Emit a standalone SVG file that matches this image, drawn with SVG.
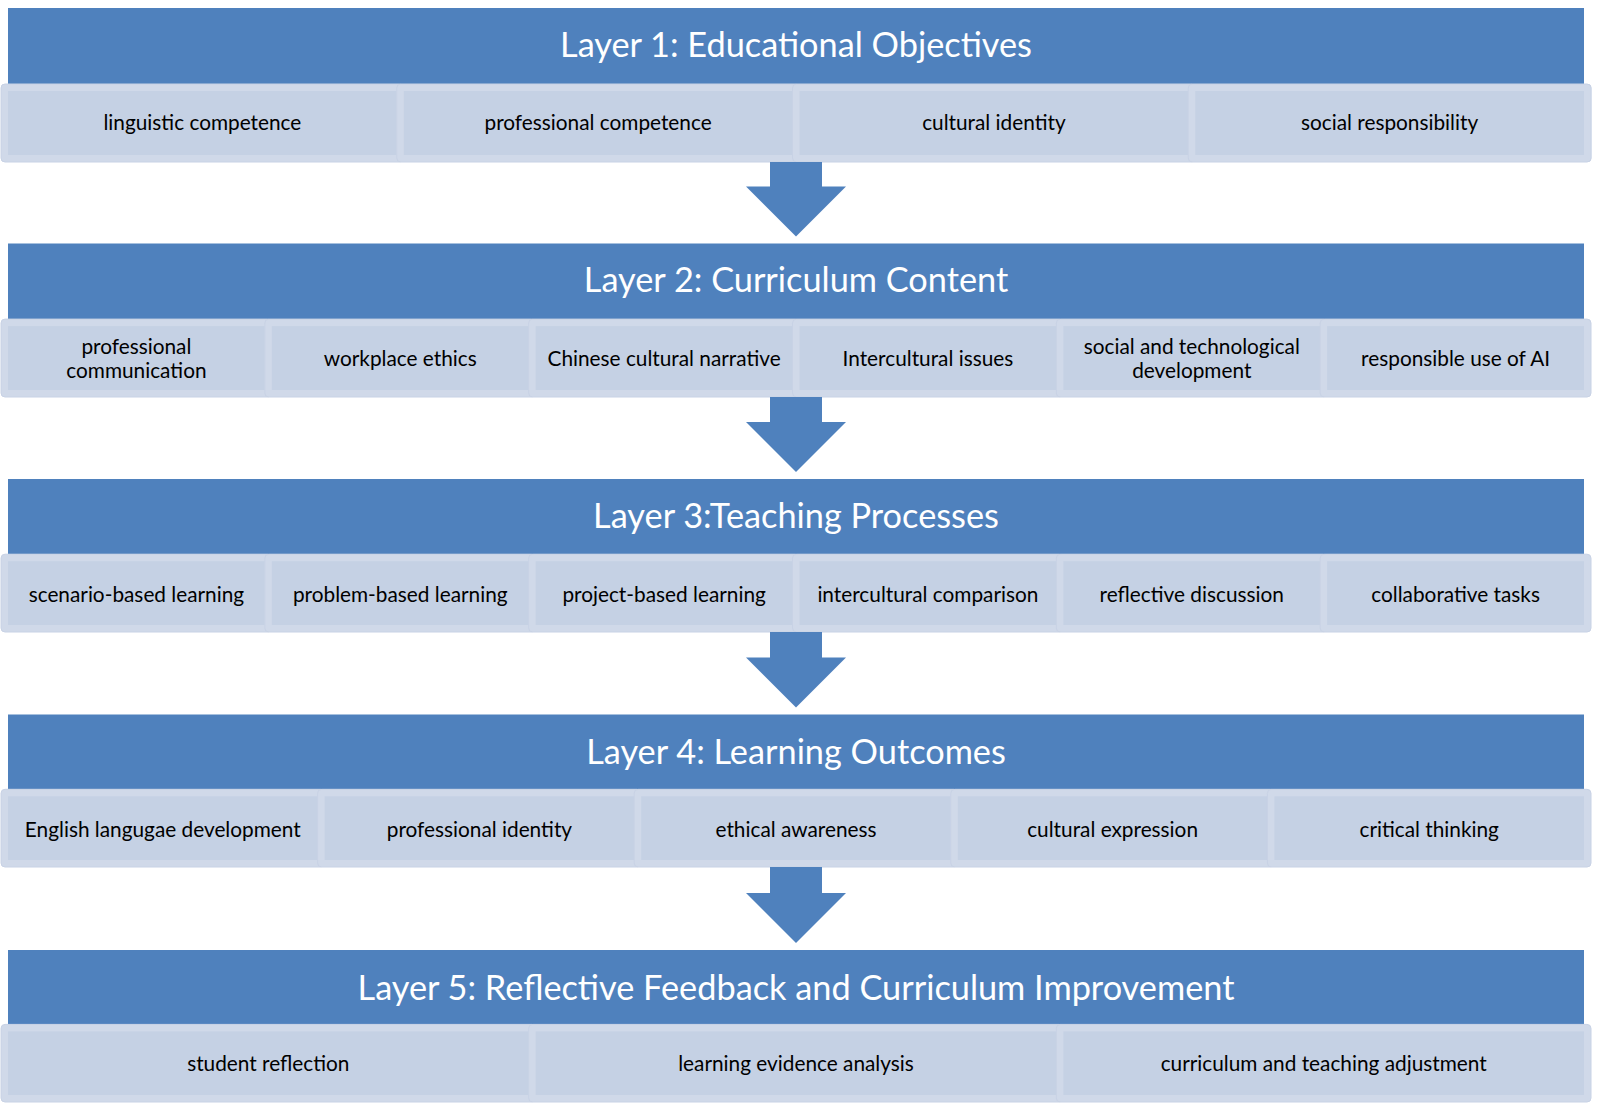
<svg xmlns="http://www.w3.org/2000/svg" width="1599" height="1113" viewBox="0 0 1599 1113">
<style>
.hdr{fill:#4f81bd}
.band{fill:#d0d9e9}
.cellO{fill:#d0d9e9;stroke:#c8d2e5;stroke-width:1}
.cell{fill:#c5d1e4}
.arrow{fill:#4f81bd}
.title{font-family:Lato,"Open Sans",sans-serif;font-size:34.3px;fill:#ffffff;text-anchor:middle}
.lbl{font-family:Lato,"Open Sans",sans-serif;font-size:20.8px;fill:#000000;text-anchor:middle}
</style>
<rect width="1599" height="1113" fill="#ffffff"/>

<g id="layer1">
<rect class="hdr" x="8" y="8" width="1576" height="76"/>
<text class="title" x="796" y="57">Layer 1: Educational Objectives</text>
<rect class="band" x="1" y="84" width="1590.5" height="78" rx="4"/>
<g id="l1c1"><rect class="cellO" x="1" y="84" width="402.75" height="78" rx="4"/><rect class="cell" x="8" y="91" width="388.75" height="64"/><text class="lbl" x="202.4" y="130">linguistic competence</text></g>
<g id="l1c2"><rect class="cellO" x="396.75" y="84" width="402.75" height="78" rx="4"/><rect class="cell" x="403.75" y="91" width="388.75" height="64"/><text class="lbl" x="598.1" y="130">professional competence</text></g>
<g id="l1c3"><rect class="cellO" x="792.5" y="84" width="402.75" height="78" rx="4"/><rect class="cell" x="799.5" y="91" width="388.75" height="64"/><text class="lbl" x="993.9" y="130">cultural identity</text></g>
<g id="l1c4"><rect class="cellO" x="1188.25" y="84" width="402.75" height="78" rx="4"/><rect class="cell" x="1195.25" y="91" width="388.75" height="64"/><text class="lbl" x="1389.6" y="130">social responsibility</text></g>
</g>

<g id="layer2">
<rect class="hdr" x="8" y="243.5" width="1576" height="75.6"/>
<text class="title" x="796" y="292.3">Layer 2: Curriculum Content</text>
<g id="l2c1"><rect class="cellO" x="1" y="319.1" width="270.83" height="77.9" rx="4"/><rect class="cell" x="8" y="326.1" width="256.83" height="63.9"/><text class="lbl" x="136.4" y="353.5">professional</text><text class="lbl" x="136.4" y="377.5">communication</text></g>
<g id="l2c2"><rect class="cellO" x="264.83" y="319.1" width="270.83" height="77.9" rx="4"/><rect class="cell" x="271.83" y="326.1" width="256.83" height="63.9"/><text class="lbl" x="400.25" y="365.5">workplace ethics</text></g>
<g id="l2c3"><rect class="cellO" x="528.67" y="319.1" width="270.83" height="77.9" rx="4"/><rect class="cell" x="535.67" y="326.1" width="256.83" height="63.9"/><text class="lbl" x="664.1" y="365.5">Chinese cultural narrative</text></g>
<g id="l2c4"><rect class="cellO" x="792.5" y="319.1" width="270.83" height="77.9" rx="4"/><rect class="cell" x="799.5" y="326.1" width="256.83" height="63.9"/><text class="lbl" x="927.9" y="365.5">Intercultural issues</text></g>
<g id="l2c5"><rect class="cellO" x="1056.33" y="319.1" width="270.83" height="77.9" rx="4"/><rect class="cell" x="1063.33" y="326.1" width="256.83" height="63.9"/><text class="lbl" x="1191.75" y="353.5">social and technological</text><text class="lbl" x="1191.75" y="377.5">development</text></g>
<g id="l2c6"><rect class="cellO" x="1320.17" y="319.1" width="270.83" height="77.9" rx="4"/><rect class="cell" x="1327.17" y="326.1" width="256.83" height="63.9"/><text class="lbl" x="1455.6" y="365.5">responsible use of AI</text></g>
</g>

<g id="layer3">
<rect class="hdr" x="8" y="479" width="1576" height="75.2"/>
<text class="title" x="796" y="528">Layer 3:Teaching Processes</text>
<g id="l3c1"><rect class="cellO" x="1" y="554.2" width="270.83" height="77.8" rx="4"/><rect class="cell" x="8" y="561.2" width="256.83" height="63.8"/><text class="lbl" x="136.4" y="601.8">scenario-based learning</text></g>
<g id="l3c2"><rect class="cellO" x="264.83" y="554.2" width="270.83" height="77.8" rx="4"/><rect class="cell" x="271.83" y="561.2" width="256.83" height="63.8"/><text class="lbl" x="400.25" y="601.8">problem-based learning</text></g>
<g id="l3c3"><rect class="cellO" x="528.67" y="554.2" width="270.83" height="77.8" rx="4"/><rect class="cell" x="535.67" y="561.2" width="256.83" height="63.8"/><text class="lbl" x="664.1" y="601.8">project-based learning</text></g>
<g id="l3c4"><rect class="cellO" x="792.5" y="554.2" width="270.83" height="77.8" rx="4"/><rect class="cell" x="799.5" y="561.2" width="256.83" height="63.8"/><text class="lbl" x="927.9" y="601.8">intercultural comparison</text></g>
<g id="l3c5"><rect class="cellO" x="1056.33" y="554.2" width="270.83" height="77.8" rx="4"/><rect class="cell" x="1063.33" y="561.2" width="256.83" height="63.8"/><text class="lbl" x="1191.75" y="601.8">reflective discussion</text></g>
<g id="l3c6"><rect class="cellO" x="1320.17" y="554.2" width="270.83" height="77.8" rx="4"/><rect class="cell" x="1327.17" y="561.2" width="256.83" height="63.8"/><text class="lbl" x="1455.6" y="601.8">collaborative tasks</text></g>
</g>

<g id="layer4">
<rect class="hdr" x="8" y="714.5" width="1576" height="74.8"/>
<text class="title" x="796" y="763.5">Layer 4: Learning Outcomes</text>
<g id="l4c1"><rect class="cellO" x="1" y="789.3" width="323.6" height="77.7" rx="4"/><rect class="cell" x="8" y="796.3" width="309.6" height="63.7"/><text class="lbl" x="162.8" y="837.2">English langugae development</text></g>
<g id="l4c2"><rect class="cellO" x="317.6" y="789.3" width="323.6" height="77.7" rx="4"/><rect class="cell" x="324.6" y="796.3" width="309.6" height="63.7"/><text class="lbl" x="479.4" y="837.2">professional identity</text></g>
<g id="l4c3"><rect class="cellO" x="634.2" y="789.3" width="323.6" height="77.7" rx="4"/><rect class="cell" x="641.2" y="796.3" width="309.6" height="63.7"/><text class="lbl" x="796" y="837.2">ethical awareness</text></g>
<g id="l4c4"><rect class="cellO" x="950.8" y="789.3" width="323.6" height="77.7" rx="4"/><rect class="cell" x="957.8" y="796.3" width="309.6" height="63.7"/><text class="lbl" x="1112.6" y="837.2">cultural expression</text></g>
<g id="l4c5"><rect class="cellO" x="1267.4" y="789.3" width="323.6" height="77.7" rx="4"/><rect class="cell" x="1274.4" y="796.3" width="309.6" height="63.7"/><text class="lbl" x="1429.2" y="837.2">critical thinking</text></g>
</g>

<g id="layer5">
<rect class="hdr" x="8" y="950" width="1576" height="74.4"/>
<text class="title" x="796" y="1000">Layer 5: Reflective Feedback and Curriculum Improvement</text>
<g id="l5c1"><rect class="cellO" x="1" y="1024.4" width="534.67" height="77.6" rx="4"/><rect class="cell" x="8" y="1031.4" width="520.67" height="63.6"/><text class="lbl" x="268.3" y="1070.6">student reflection</text></g>
<g id="l5c2"><rect class="cellO" x="528.67" y="1024.4" width="534.67" height="77.6" rx="4"/><rect class="cell" x="535.67" y="1031.4" width="520.67" height="63.6"/><text class="lbl" x="796" y="1070.6">learning evidence analysis</text></g>
<g id="l5c3"><rect class="cellO" x="1056.33" y="1024.4" width="534.67" height="77.6" rx="4"/><rect class="cell" x="1063.33" y="1031.4" width="520.67" height="63.6"/><text class="lbl" x="1323.7" y="1070.6">curriculum and teaching adjustment</text></g>
</g>

<g id="connectors">
<polygon class="arrow" points="770,162 822,162 822,186.5 846,186.5 796,236.5 746,186.5 770,186.5"/>
<polygon class="arrow" points="770,397 822,397 822,422 846,422 796,472 746,422 770,422"/>
<polygon class="arrow" points="770,632 822,632 822,657.5 846,657.5 796,707.5 746,657.5 770,657.5"/>
<polygon class="arrow" points="770,867 822,867 822,893 846,893 796,943 746,893 770,893"/>
</g>
</svg>
